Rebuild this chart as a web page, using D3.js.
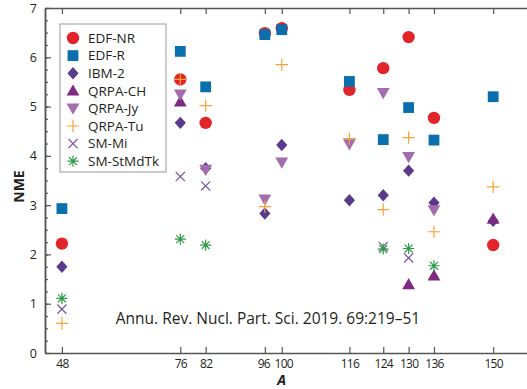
<!DOCTYPE html>
<html>
<head>
<script src="https://d3js.org/d3.v7.min.js"></script>
<style>
  body { margin: 0; background: #fff; }
  svg text { font-family: "Open Sans", "Noto Sans", sans-serif; fill: #231f20; }
</style>
</head>
<body>
<div id="chart"></div>
<script>
// mass numbers A on the x axis
const massNumbers = [48, 76, 82, 96, 100, 116, 124, 130, 136, 150];
const yTicks = [0, 1, 2, 3, 4, 5, 6, 7];

// NME values per model (null = no calculation)
const edfNR   = [2.22, 5.55, 4.67, 6.49, 6.59, 5.34, 5.78, 6.41, 4.77, 2.19];
const edfR    = [2.93, 6.12, 5.40, 6.46, 6.56, 5.51, 4.33, 4.98, 4.32, 5.20];
const ibm2    = [1.75, 4.67, 3.75, 2.83, 4.22, 3.10, 3.20, 3.70, 3.05, 2.68];
const qrpaCH  = [null, 5.10, null, null, null, null, null, 1.39, 1.57, 2.72];
const qrpaJy  = [null, 5.25, 3.72, 3.12, 3.87, 4.24, 5.28, 3.98, 2.90, null];
const qrpaTu  = [0.60, 5.55, 5.02, 2.97, 5.85, 4.35, 2.91, 4.37, 2.46, 3.37];
const smMi    = [0.89, 3.58, 3.39, null, null, null, 2.16, 1.93, null, null];
const smStMd  = [1.11, 2.31, 2.19, null, null, null, 2.11, 2.12, 1.77, null];

const modelNames = ["EDF-NR", "EDF-R", "IBM-2", "QRPA-CH", "QRPA-Jy", "QRPA-Tu", "SM-Mi", "SM-StMdTk"];
const modelValues = [edfNR, edfR, ibm2, qrpaCH, qrpaJy, qrpaTu, smMi, smStMd];

// marker shapes, r = half extent in px
const shapes = {
  circle(ctx, r) { ctx.moveTo(r, 0); ctx.arc(0, 0, r, 0, 2 * Math.PI); },
  square(ctx, r) { ctx.rect(-r, -r, 2 * r, 2 * r); },
  diamond(ctx, r) {
    ctx.moveTo(0, -r); ctx.lineTo(r * 0.9, 0); ctx.lineTo(0, r); ctx.lineTo(-r * 0.9, 0); ctx.closePath();
  },
  triUp(ctx, r) {
    ctx.moveTo(0, -r); ctx.lineTo(r, r * 0.75); ctx.lineTo(-r, r * 0.75); ctx.closePath();
  },
  triDown(ctx, r) {
    ctx.moveTo(0, r); ctx.lineTo(r, -r * 0.75); ctx.lineTo(-r, -r * 0.75); ctx.closePath();
  },
  plus(ctx, r) { ctx.moveTo(-r, 0); ctx.lineTo(r, 0); ctx.moveTo(0, -r); ctx.lineTo(0, r); },
  times(ctx, r) { ctx.moveTo(-r, -r); ctx.lineTo(r, r); ctx.moveTo(-r, r); ctx.lineTo(r, -r); },
  star(ctx, r) {
    for (let k = 0; k < 4; k++) {
      const a = k * Math.PI / 4;
      ctx.moveTo(-r * Math.cos(a), -r * Math.sin(a));
      ctx.lineTo(r * Math.cos(a), r * Math.sin(a));
    }
  }
};
function marker(name, r) {
  const p = d3.path();
  shapes[name](p, r);
  return p.toString();
}

const styles = [
  { shape: "circle",  r: 6.2, color: "#e2242b", fill: true },
  { shape: "square",  r: 5.4, color: "#0b6fad", fill: true },
  { shape: "diamond", r: 6.2, color: "#5b3a8b", fill: true },
  { shape: "triUp",   r: 6.4, color: "#7d2a82", fill: true },
  { shape: "triDown", r: 6.4, color: "#a36dae", fill: true },
  { shape: "plus",    r: 6.2, color: "#f6a43a", fill: false },
  { shape: "times",   r: 4.6, color: "#7a55a0", fill: false },
  { shape: "star",    r: 5.6, color: "#2f9a48", fill: false }
];

const W = 527, H = 389;
const margin = { top: 8, left: 45, bottom: 36 };

const svg = d3.select("#chart").append("svg")
  .attr("width", W).attr("height", H);

const x = d3.scaleLinear().domain([44, 158]).range([margin.left, W]);
const y = d3.scaleLinear().domain([0, 7]).range([H - margin.bottom, margin.top]);

const axisColor = "#555";

// bottom axis (ticks inward)
const xBottom = svg.append("g")
  .attr("transform", `translate(0,${y(0)})`)
  .call(d3.axisBottom(x).tickValues(massNumbers).tickSize(-6).tickPadding(6).tickSizeOuter(0));
// top axis, no labels
const xTop = svg.append("g")
  .attr("transform", `translate(0,${y(7)})`)
  .call(d3.axisTop(x).tickValues(massNumbers).tickSize(-6).tickFormat("").tickSizeOuter(0));
// left axis, minor ticks every 0.25
const yMinor = svg.append("g")
  .attr("transform", `translate(${margin.left},0)`)
  .call(d3.axisLeft(y).tickValues(d3.range(0, 7.01, 0.25)).tickSize(-3).tickFormat("").tickSizeOuter(0));
const yMajor = svg.append("g")
  .attr("transform", `translate(${margin.left},0)`)
  .call(d3.axisLeft(y).tickValues(yTicks).tickFormat(d3.format("d")).tickSize(-6).tickPadding(8).tickSizeOuter(0));

[xBottom, xTop, yMinor, yMajor].forEach(g => {
  g.select(".domain").attr("stroke", axisColor).attr("stroke-width", 1.5);
  g.selectAll(".tick line").attr("stroke", axisColor).attr("stroke-width", 1.2);
  g.selectAll(".tick text").style("font-size", "12.5px").attr("fill", "#231f20")
    .style("font-family", '"Open Sans", sans-serif');
});
xBottom.selectAll(".tick text")
  .style("font-size", "12px").style("letter-spacing", "-0.7px")
  .attr("dx", d => d === 96 ? -1.5 : d === 100 ? 1.5 : 0);

// axis titles
svg.append("text")
  .attr("transform", `translate(24,${(y(0) + y(7)) / 2 + 6}) rotate(-90)`)
  .attr("text-anchor", "middle")
  .style("font-weight", "bold").style("font-size", "14px")
  .text("NME");
svg.append("text")
  .attr("x", x(100)).attr("y", 385)
  .attr("text-anchor", "middle")
  .style("font-weight", "bold").style("font-style", "italic").style("font-size", "14px")
  .text("A");

// citation
svg.append("text")
  .attr("x", 268).attr("y", 324)
  .attr("text-anchor", "middle")
  .style("font-size", "15.5px")
  .text("Annu. Rev. Nucl. Part. Sci. 2019. 69:219\u201351");

// data points
modelValues.forEach((vals, i) => {
  const st = styles[i];
  const pts = massNumbers.map((a, j) => ({ a, v: vals[j] })).filter(d => d.v != null);
  svg.append("g").selectAll("path")
    .data(pts)
    .join("path")
    .attr("transform", d => `translate(${x(d.a)},${y(d.v)})`)
    .attr("d", marker(st.shape, st.r))
    .attr("fill", st.fill ? st.color : "none")
    .attr("stroke", st.fill ? "none" : st.color)
    .attr("stroke-width", 1.2);
});

// legend
const legend = svg.append("g").attr("transform", "translate(60,24)");
legend.append("rect")
  .attr("width", 106).attr("height", 148)
  .attr("fill", "#fff").attr("stroke", "#aaa").attr("stroke-width", 1.2);
modelNames.forEach((name, i) => {
  const st = styles[i];
  const row = legend.append("g").attr("transform", `translate(13,${14 + i * 17.6})`);
  row.append("path")
    .attr("d", marker(st.shape, st.r))
    .attr("fill", st.fill ? st.color : "none")
    .attr("stroke", st.fill ? "none" : st.color)
    .attr("stroke-width", 1.2);
  row.append("text")
    .attr("x", 15).attr("dy", "0.35em")
    .style("font-size", "13.5px")
    .text(name);
});
</script>
</body>
</html>
